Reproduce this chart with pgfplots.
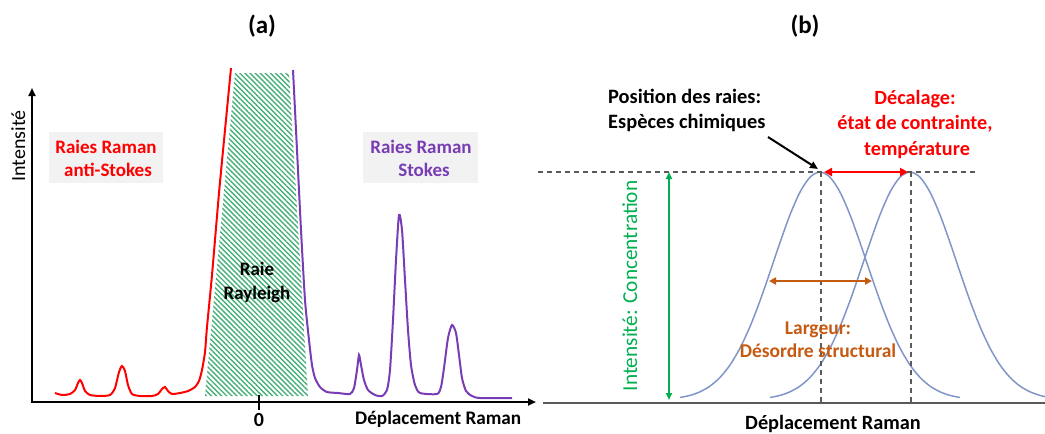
\documentclass[border=0pt]{standalone}
\usepackage{fontspec}
\setmainfont{Carlito}
\usepackage{pgfplots}
\pgfplotsset{compat=1.18}
\usetikzlibrary{arrows.meta,patterns.meta}

\definecolor{antired}{RGB}{255,0,0}
\definecolor{stokes}{RGB}{120,60,180}
\definecolor{hatch}{RGB}{70,175,120}
\definecolor{boxgray}{RGB}{242,242,242}
\definecolor{gauss}{RGB}{128,150,200}
\definecolor{conc}{RGB}{0,176,80}
\definecolor{largeur}{RGB}{197,90,17}
\definecolor{guidegray}{RGB}{90,90,90}

\newcommand{\fs}[1]{\fontsize{#1}{#1}\selectfont}

\begin{document}
\begin{tikzpicture}
\begin{axis}[
    name=main,
    width=1045pt, height=434pt, scale only axis,
    xmin=0, xmax=1045, ymin=0, ymax=434,
    y dir=reverse,
    hide axis, clip=false,
]
% ---------------- panel (a) ----------------
% label boxes
\addplot[fill=boxgray, draw=none] coordinates {(49,132)(163,132)(163,183)(49,183)} -- cycle;
\addplot[fill=boxgray, draw=none] coordinates {(363,132)(478,132)(478,183)(363,183)} -- cycle;

% Rayleigh line (hatched)
\addplot[draw=none, pattern={Lines[angle=-45,distance=3.6pt,line width=1.4pt]}, pattern color=hatch]
    coordinates {(205,396)(235,73)(289,73)(308,396)} -- cycle;

% anti-Stokes side
\addplot[antired, line width=2pt, smooth, tension=0.4] coordinates {
    (55,393)(62,395)(70,394)(75,390)(78,383)(80,380)(82,383)(85,391)(90,395)
    (100,396)(110,395)(115,388)(119,372)(122,366)(125,371)(128,385)(132,394)
    (140,396)(152,396)(158,394)(162,389)(165,387)(168,391)(172,394)(180,393)
    (188,391)(195,387)(199,381)(202,370)(205,352)(207,327)(212,275)(219,193)
    (225,130)(231,68)
};
% Stokes side
\addplot[stokes, line width=2pt, smooth, tension=0.4] coordinates {
    (293,70)(297,150)(301,230)(305,300)(309,340)(312,365)(315,378)(320,387)
    (327,392)(338,393)(350,394)(354,388)(357,370)(359,355)(361,365)(364,380)
    (368,390)(375,395)(382,396)(387,390)(390,370)(393,320)(396,260)(399,215)
    (402,230)(405,280)(408,330)(411,365)(415,385)(420,393)(437,394)(441,387)
    (444,368)(448,338)(452,325)(456,333)(459,355)(462,378)(466,391)(472,396)
    (480,398)(512,398)
};

% axes of panel (a)
\addplot[black, line width=2.2pt, arrows={-Triangle[length=8pt,width=7pt]}] coordinates {(32,403)(32,88)};
\addplot[black, line width=2.2pt, arrows={-Triangle[length=8pt,width=7pt]}] coordinates {(31,402)(536,402)};
\addplot[black, line width=2.6pt] coordinates {(259,395)(259,410)};

\node[anchor=base, font=\fs{25}\bfseries] at (axis cs:262,33) {(a)};
\node[anchor=base, rotate=90, font=\fs{20}] at (axis cs:25,146) {Intensité};
\node[anchor=base, font=\fs{20}\bfseries] at (axis cs:259,426) {0};
\node[anchor=base west, inner sep=0pt, font=\fs{19.2}\bfseries] at (axis cs:355,424) {Déplacement Raman};

\node[anchor=base, text=antired, font=\fs{19}\bfseries] at (axis cs:106,153) {Raies Raman};
\node[anchor=base, text=antired, font=\fs{19}\bfseries] at (axis cs:108,176) {anti-Stokes};
\node[anchor=base, text=stokes, font=\fs{19}\bfseries] at (axis cs:421,153) {Raies Raman};
\node[anchor=base, text=stokes, font=\fs{19}\bfseries] at (axis cs:424,176) {Stokes};
\node[anchor=base, font=\fs{19}\bfseries] at (axis cs:257,275) {Raie};
\node[anchor=base, font=\fs{19}\bfseries] at (axis cs:257,299) {Rayleigh};

% ---------------- panel (b) ----------------
\addplot[gauss, line width=1.5pt, smooth] coordinates {
    (680,397.5)(690,395.4)(700,391.8)(710,386.1)(720,377.4)(730,365.0)(740,348.1)
    (750,326.6)(760,300.8)(770,272.1)(780,242.5)(790,214.8)(800,192.1)(810,177.2)
    (820,172)(830,177.2)(840,192.1)(850,214.8)(860,242.5)(870,272.1)(880,300.8)
    (890,326.6)(900,348.1)(910,365.0)(920,377.4)(930,386.1)(940,391.8)(950,395.4)
    (960,397.5)
};
\addplot[gauss, line width=1.5pt, smooth] coordinates {
    (770,397.5)(780,395.4)(790,391.8)(800,386.1)(810,377.4)(820,365.0)(830,348.1)
    (840,326.6)(850,300.8)(860,272.1)(870,242.5)(880,214.8)(890,192.1)(900,177.2)
    (910,172)(920,177.2)(930,192.1)(940,214.8)(950,242.5)(960,272.1)(970,300.8)
    (980,326.6)(990,348.1)(1000,365.0)(1010,377.4)(1020,386.1)(1030,391.8)
    (1040,395.4)(1045,396.6)
};

% baseline and guides
\addplot[guidegray, line width=1.4pt] coordinates {(543,403)(1045,403)};
\addplot[guidegray, line width=1.1pt, dash pattern=on 5pt off 4pt] coordinates {(538,172)(975,172)};
\addplot[guidegray, line width=1.1pt, dash pattern=on 5pt off 4pt] coordinates {(821,172)(821,403)};
\addplot[guidegray, line width=1.1pt, dash pattern=on 5pt off 4pt] coordinates {(911,172)(911,403)};

% arrows
\addplot[antired, line width=2.5pt, arrows={Triangle[length=8pt,width=8pt]-Triangle[length=8pt,width=8pt]}]
    coordinates {(824,172)(908,172)};
\addplot[largeur, line width=2pt, arrows={Triangle[length=7pt,width=7pt]-Triangle[length=7pt,width=7pt]}]
    coordinates {(769,281)(872,281)};
\addplot[conc, line width=2pt, arrows={Triangle[length=7pt,width=6pt]-Triangle[length=7pt,width=6pt]}]
    coordinates {(669,172)(669,400)};
\addplot[black, line width=2pt, arrows={-Triangle[length=8pt,width=7pt]}]
    coordinates {(768,137)(818,169)};

\node[anchor=base, font=\fs{25}\bfseries] at (axis cs:805,33) {(b)};
\node[anchor=base west, inner sep=0pt, font=\fs{20.4}\bfseries] at (axis cs:608,103) {Position des raies:};
\node[anchor=base west, inner sep=0pt, font=\fs{20.4}\bfseries] at (axis cs:608,128) {Espèces chimiques};
\node[anchor=base, text=antired, font=\fs{20.2}\bfseries] at (axis cs:915,104) {Décalage:};
\node[anchor=base, text=antired, font=\fs{20.2}\bfseries] at (axis cs:915,129) {état de contrainte,};
\node[anchor=base, text=antired, font=\fs{20.2}\bfseries] at (axis cs:917,155) {température};
\node[anchor=base, text=largeur, font=\fs{19.5}\bfseries] at (axis cs:818,334) {Largeur:};
\node[anchor=base, text=largeur, font=\fs{19.5}\bfseries] at (axis cs:818,357) {Désordre structural};
\node[anchor=base, rotate=90, text=conc, font=\fs{21.3}] at (axis cs:637,286) {Intensité: Concentration};
\node[anchor=base, font=\fs{20.3}\bfseries] at (axis cs:833,429) {Déplacement Raman};
\end{axis}
\pgfresetboundingbox
\path[use as bounding box] (main.south west) rectangle (main.north east);
\end{tikzpicture}
\end{document}
